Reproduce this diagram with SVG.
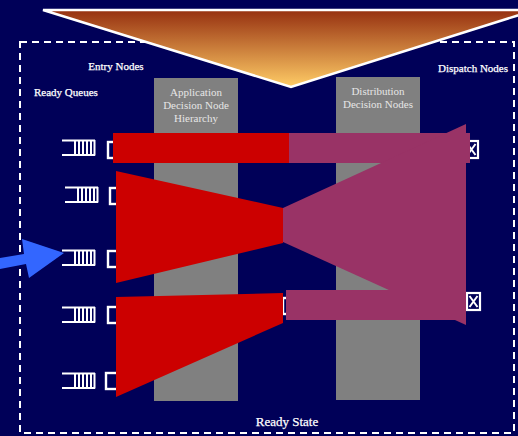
<svg xmlns="http://www.w3.org/2000/svg" xmlns:xlink="http://www.w3.org/1999/xlink" width="518" height="436" viewBox="0 0 518 436">
<defs>
<linearGradient id="tri" x1="0" y1="0" x2="0" y2="1">
<stop offset="0" stop-color="#963010"/>
<stop offset="1" stop-color="#FFCC66"/>
</linearGradient>
<g id="queue">
<path d="M0 0.5H33M0 15H33M13 0V15.5M17 0V15.5M21 0V15.5M25 0V15.5M29 0V15.5M32.5 0V15.5" fill="none" stroke="#fff" stroke-width="2"/>
</g>
<rect id="sq" width="14" height="16" fill="none" stroke="#fff" stroke-width="2.4"/>
<g id="xbox">
<rect width="13" height="17" fill="#000058" stroke="#fff" stroke-width="2.2"/>
<path d="M2.5 3L10.5 14M10.5 3L2.5 14" stroke="#fff" stroke-width="2"/>
</g>
</defs>
<style>
.lbl{font-family:"Liberation Serif","Times New Roman",serif;font-size:11px;fill:#fff;stroke:#fff;stroke-width:0.25}
.big{font-size:13px}
.col{fill:#808080}
.coltxt{font-family:"Liberation Serif","Times New Roman",serif;font-size:11px;fill:#e6e6e6;text-anchor:middle}
.red{fill:#CC0000}
.pur{fill:#993366}
</style>
<rect width="518" height="436" fill="#000058"/>
<g id="ready-state">
<rect x="20" y="42" width="494" height="391" fill="none" stroke="#fff" stroke-width="2" stroke-dasharray="7,5"/>
<text class="lbl big" x="287" y="426" text-anchor="middle">Ready State</text>
</g>
<g id="labels">
<text class="lbl" x="116" y="70" text-anchor="middle">Entry Nodes</text>
<text class="lbl" x="34" y="96">Ready Queues</text>
<text class="lbl" x="508" y="72" text-anchor="end">Dispatch Nodes</text>
</g>
<g id="app-decision">
<rect class="col" x="154" y="78" width="84" height="323"/>
<text class="coltxt" x="196" y="96">Application</text>
<text class="coltxt" x="196" y="109">Decision Node</text>
<text class="coltxt" x="196" y="122">Hierarchy</text>
</g>
<g id="dist-decision">
<rect class="col" x="336" y="77" width="84" height="323"/>
<text class="coltxt" x="378" y="95">Distribution</text>
<text class="coltxt" x="378" y="108">Decision Nodes</text>
</g>
<g id="queues">
<use xlink:href="#queue" x="62" y="140"/>
<use xlink:href="#sq" x="108" y="142"/>
<use xlink:href="#queue" x="65" y="187"/>
<use xlink:href="#sq" x="110" y="188"/>
<use xlink:href="#queue" x="62" y="250"/>
<use xlink:href="#sq" x="108" y="251"/>
<use xlink:href="#queue" x="62" y="307"/>
<use xlink:href="#sq" x="108" y="307"/>
<use xlink:href="#queue" x="62" y="373"/>
<use xlink:href="#sq" x="106" y="373"/>
</g>
<g id="mid-node">
<use xlink:href="#sq" x="283" y="298"/>
</g>
<g id="dispatch">
<use xlink:href="#xbox" x="465" y="141"/>
<use xlink:href="#xbox" x="467" y="293"/>
</g>
<g id="flows">
<rect class="red" x="113" y="133" width="177" height="30"/>
<polygon class="red" points="116,171 283,208 283,243 116,283"/>
<polygon class="red" points="116,297 283,293 283,323 116,397"/>
<rect class="pur" x="289" y="133" width="181" height="30"/>
<polygon class="pur" points="283,208 466,124 466,325 283,242"/>
<rect class="pur" x="286" y="290" width="180" height="30"/>
</g>
<g id="top-triangle">
<polygon points="43,10 535,10 291,87" fill="url(#tri)" stroke="#fff" stroke-width="2.5" stroke-linejoin="miter"/>
</g>
<g id="connectors">
<polygon points="0,258 24,254 22,239 64,253 29,278 26,264 0,269" fill="#3366FF"/>
</g>
</svg>
